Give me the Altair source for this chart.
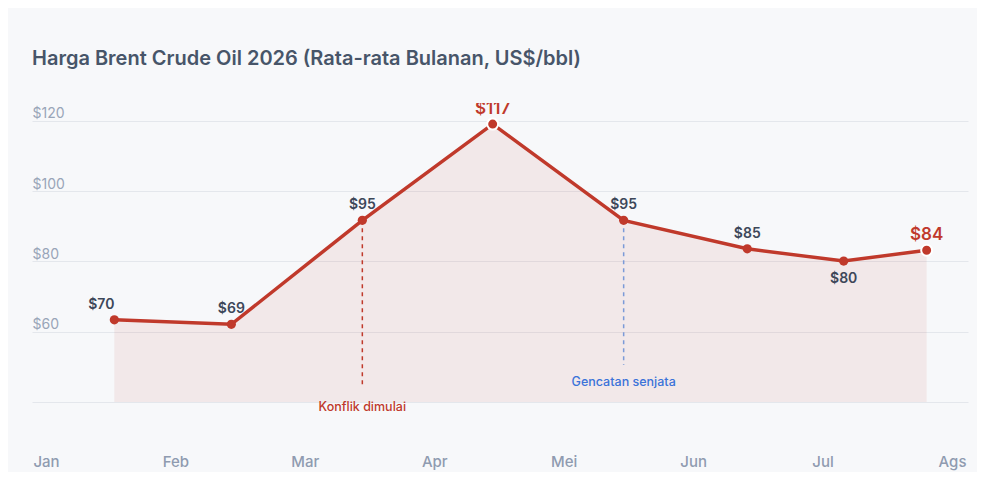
import altair as alt
import pandas as pd

# ---- data ----
month_ticks = ["Jan", "Feb", "Mar", "Apr", "Mei", "Jun", "Jul", "Ags"]
point_month = ["Jan", "Feb", "Mar", "Apr", "Mei", "Jun", "Jul", "Ags"]
point_pos = [0.528, 1.432, 2.444, 3.451, 4.463, 5.418, 6.163, 6.804]   # month units along the time axis
prices = [63.4, 62.1, 91.7, 119.1, 91.7, 83.6, 80.1, 83.2]
price_labels = ["$70", "$69", "$95", "$117", "$95", "$85", "$80", "$84"]

event_names = ["Konflik dimulai", "Gencatan senjata"]
event_pos = [2.444, 4.463]
event_top = [91.7, 91.7]
event_end = [44.8, 50.5]
event_text_y = [38.6, 45.7]

y_ticks = [40, 60, 80, 100, 120]

TITLE = "Harga Brent Crude Oil 2026 (Rata-rata Bulanan, US$/bbl)"
RED = "#c0392b"
BLUE = "#3b73d9"
BG = "#f7f8fa"

df = pd.DataFrame({
    "month": point_month,
    "pos": point_pos,
    "price": prices,
    "label": price_labels,
})
df["kind"] = "above"
df.loc[df["month"] == "Jan", "kind"] = "left"
df.loc[df["month"] == "Jul", "kind"] = "below"
df.loc[df["month"].isin(["Apr", "Ags"]), "kind"] = "hi"

ev = pd.DataFrame({
    "name": event_names,
    "pos": event_pos,
    "top": event_top,
    "end": event_end,
    "ty": event_text_y,
})

xs = alt.Scale(domain=[-0.1082, 7.1235], nice=False, zero=False)
ys = alt.Scale(domain=[40, 125.1], nice=False, zero=False)

months_js = "[" + ",".join("'" + m + "'" for m in month_ticks) + "]"

x_axis = alt.Axis(
    values=list(range(len(month_ticks))),
    labelExpr=months_js + "[datum.value]",
    title=None, domain=False, ticks=False, tickSize=0, grid=False,
    labelColor="#8f9bb0", labelFontSize=15, labelFontWeight=500,
    labelPadding=64, labelBaseline="alphabetic", labelFlush=False,
)
y_axis = alt.Axis(
    values=y_ticks,
    labelExpr="datum.value == 40 ? '' : '$' + datum.value",
    title=None, domain=False, ticks=False, tickSize=0, grid=True,
    gridColor="#e4e7ec", gridWidth=1,
    labelColor="#99a5b8", labelFontSize=14, labelAlign="left",
    labelBaseline="alphabetic", labelPadding=0, labelOffset=-3,
)

base = alt.Chart(df)
X = alt.X("pos:Q", scale=xs, axis=x_axis)
Y = alt.Y("price:Q", scale=ys, axis=y_axis)

area = base.mark_area(color=RED, opacity=0.08).encode(
    x=X, y=Y, y2=alt.datum(40)
)
line = base.mark_line(color=RED, strokeWidth=3.5).encode(
    x=alt.X("pos:Q", scale=xs), y=alt.Y("price:Q", scale=ys)
)

is_conflict = "datum.name == '" + event_names[0] + "'"

rules = alt.Chart(ev).mark_rule(strokeDash=[4, 4], strokeWidth=1.5).encode(
    x=alt.X("pos:Q", scale=xs),
    y=alt.Y("top:Q", scale=ys),
    y2="end:Q",
    color=alt.condition(is_conflict, alt.value(RED), alt.value("#7b9ad8")),
)
ev_text = alt.Chart(ev).mark_text(fontSize=12.5, fontWeight=500, baseline="middle").encode(
    x=alt.X("pos:Q", scale=xs),
    y=alt.Y("ty:Q", scale=ys),
    text="name:N",
    color=alt.condition(is_conflict, alt.value(RED), alt.value(BLUE)),
)

pts = base.transform_filter("datum.kind != 'hi'").mark_point(
    filled=True, size=85, color=RED, opacity=1
).encode(x=alt.X("pos:Q", scale=xs), y=alt.Y("price:Q", scale=ys))
pts_hi = base.transform_filter("datum.kind == 'hi'").mark_point(
    filled=True, size=120, color=RED, opacity=1, stroke="white", strokeWidth=2
).encode(x=alt.X("pos:Q", scale=xs), y=alt.Y("price:Q", scale=ys))

def lbl(filt, **kw):
    return base.transform_filter(filt).mark_text(
        baseline="alphabetic", clip=True, **kw
    ).encode(x=alt.X("pos:Q", scale=xs), y=alt.Y("price:Q", scale=ys), text="label:N")

lab_above = lbl("datum.kind == 'above'", dy=-11, fontSize=14, fontWeight=600, color="#3d4759")
lab_left = lbl("datum.kind == 'left'", dy=-11, dx=-13, fontSize=14, fontWeight=600, color="#3d4759")
lab_below = lbl("datum.kind == 'below'", dy=22, fontSize=14, fontWeight=600, color="#3d4759")
lab_hi = lbl("datum.kind == 'hi'", dy=-10, fontSize=17, fontWeight=600, color=RED)

chart = alt.layer(
    area, line, rules, ev_text, pts, pts_hi, lab_above, lab_left, lab_below, lab_hi
).properties(
    width=936, height=299,
    title=alt.TitleParams(TITLE, anchor="start", fontSize=20, fontWeight=600,
                          color="#475569", offset=34),
    autosize=alt.AutoSizeParams(type="none"),
    padding={"left": 24, "top": 95, "right": 9, "bottom": 70},
    background=BG,
).configure(font="Inter").configure_view(stroke=None)

chart.save("out.html", embed_options={"renderer": "svg", "actions": False})
